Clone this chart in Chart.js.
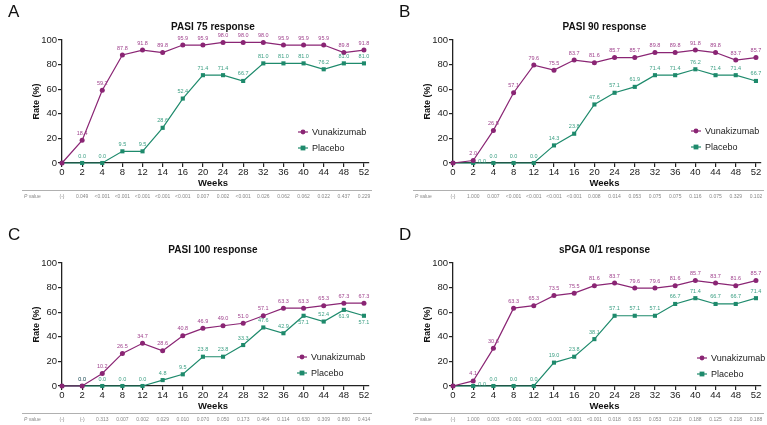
<!DOCTYPE html>
<html>
<head>
<meta charset="utf-8">
<script src="https://cdn.jsdelivr.net/npm/chart.js@4/dist/chart.umd.min.js"></script>
<style>
  html, body { margin: 0; padding: 0; background: #fff; }
  #wrap { position: relative; width: 767px; height: 425px; overflow: hidden; }
  canvas { position: absolute; }
</style>
</head>
<body>
<div id="wrap">
  <canvas id="panelA" width="391" height="202" style="left:0;top:0"></canvas>
  <canvas id="panelB" width="376" height="202" style="left:391px;top:0"></canvas>
  <canvas id="panelC" width="391" height="202" style="left:0;top:223px"></canvas>
  <canvas id="panelD" width="376" height="202" style="left:391px;top:223px"></canvas>
</div>
<script>
// week labels, evenly spaced on the axis
const weeks = ['0','2','4','8','12','14','16','20','24','28','32','36','40','44','48','52'];

// PASI 75
const pasi75Vuna    = [0, 18.4, 59.2, 87.8, 91.8, 89.8, 95.9, 95.9, 98.0, 98.0, 98.0, 95.9, 95.9, 95.9, 89.8, 91.8];
const pasi75Placebo = [0, 0.0, 0.0, 9.5, 9.5, 28.6, 52.4, 71.4, 71.4, 66.7, 81.0, 81.0, 81.0, 76.2, 81.0, 81.0];
const pasi75P = ['(-)','0.049','<0.001','<0.001','<0.001','<0.001','<0.001','0.007','0.002','<0.001','0.026','0.062','0.062','0.022','0.437','0.229'];

// PASI 90
const pasi90Vuna    = [0, 2.0, 26.5, 57.1, 79.6, 75.5, 83.7, 81.6, 85.7, 85.7, 89.8, 89.8, 91.8, 89.8, 83.7, 85.7];
const pasi90Placebo = [0, 0.0, 0.0, 0.0, 0.0, 14.3, 23.8, 47.6, 57.1, 61.9, 71.4, 71.4, 76.2, 71.4, 71.4, 66.7];
const pasi90P = ['(-)','1.000','0.007','<0.001','<0.001','<0.001','<0.001','0.008','0.014','0.053','0.075','0.075','0.116','0.075','0.329','0.102'];

// PASI 100
const pasi100Vuna    = [0, 0.0, 10.2, 26.5, 34.7, 28.6, 40.8, 46.9, 49.0, 51.0, 57.1, 63.3, 63.3, 65.3, 67.3, 67.3];
const pasi100Placebo = [0, 0.0, 0.0, 0.0, 0.0, 4.8, 9.5, 23.8, 23.8, 33.3, 47.6, 42.9, 57.1, 52.4, 61.9, 57.1];
const pasi100P = ['(-)','(-)','0.313','0.007','0.002','0.029','0.010','0.070','0.050','0.173','0.464','0.114','0.630','0.309','0.860','0.414'];

// sPGA 0/1
const spgaVuna    = [0, 4.1, 30.6, 63.3, 65.3, 73.5, 75.5, 81.6, 83.7, 79.6, 79.6, 81.6, 85.7, 83.7, 81.6, 85.7];
const spgaPlacebo = [0, 0.0, 0.0, 0.0, 0.0, 19.0, 23.8, 38.1, 57.1, 57.1, 57.1, 66.7, 71.4, 66.7, 66.7, 71.4];
const spgaP = ['(-)','1.000','0.003','<0.001','<0.001','<0.001','<0.001','<0.001','0.018','0.053','0.053','0.218','0.188','0.125','0.218','0.188'];

const PURPLE = '#8a2574';
const GREEN = '#1e8a6c';
const PURPLE_LBL = '#a0448e';
const GREEN_LBL = '#3a9e82';
const FONT = '"Liberation Sans", Arial, sans-serif';

// draws the decorations that chart.js doesn't do for us
const panelDeco = {
    id: 'panelDeco',
    afterDatasetsDraw(chart, args, opts) {
        const ctx = chart.ctx;
        const ca = chart.chartArea;
        const xs = chart.scales.x;
        const midX = (ca.left + xs.getPixelForValue(15)) / 2;
        ctx.save();

        // value labels above points (skip week 0)
        ctx.font = '5.5px ' + FONT;
        ctx.textAlign = 'center';
        ctx.textBaseline = 'middle';
        chart.data.datasets.forEach((ds, di) => {
            const meta = chart.getDatasetMeta(di);
            ctx.fillStyle = di === 0 ? PURPLE_LBL : GREEN_LBL;
            meta.data.forEach((pt, i) => {
                if (i === 0) return;
                let dx = 0, dy = -7;
                if (di === 1 && opts.below.includes(i)) dy = 7;
                if (di === 1 && opts.side.includes(i)) { dx = 9; dy = -2; }
                ctx.fillText(ds.data[i].y.toFixed(1), pt.x + dx, pt.y + dy);
            });
        });

        // panel letter
        ctx.fillStyle = '#111';
        ctx.textAlign = 'left';
        ctx.textBaseline = 'top';
        ctx.font = '17px ' + FONT;
        ctx.fillText(opts.letter, 8, 4);

        // title
        ctx.textAlign = 'center';
        ctx.textBaseline = 'middle';
        ctx.font = 'bold 10px ' + FONT;
        ctx.fillText(opts.title, midX, 27);

        // y title
        ctx.save();
        ctx.translate(ca.left - 25, (ca.top + ca.bottom) / 2);
        ctx.rotate(-Math.PI / 2);
        ctx.font = 'bold 9px ' + FONT;
        ctx.fillText('Rate (%)', 0, 0);
        ctx.restore();

        // x title
        ctx.font = 'bold 9.5px ' + FONT;
        ctx.fillText('Weeks', midX, ca.bottom + 20);

        // separator + P value row
        ctx.strokeStyle = '#b0b0b0';
        ctx.lineWidth = 1;
        ctx.beginPath();
        ctx.moveTo(22, ca.bottom + 27.5);
        ctx.lineTo(ca.right + 3, ca.bottom + 27.5);
        ctx.stroke();

        ctx.fillStyle = '#888';
        ctx.font = 'italic 5px ' + FONT;
        ctx.textAlign = 'left';
        ctx.fillText('P', 24, ca.bottom + 34);
        const pw = ctx.measureText('P').width;
        ctx.font = '5px ' + FONT;
        ctx.fillText(' value', 24 + pw, ca.bottom + 34);
        ctx.textAlign = 'center';
        opts.pvals.forEach((p, i) => {
            ctx.fillText(p, xs.getPixelForValue(i), ca.bottom + 34);
        });

        // legend
        const lx = ca.right - opts.legX;
        const items = [['Vunakizumab', PURPLE, 'circle'], ['Placebo', GREEN, 'rect']];
        items.forEach((it, k) => {
            const y = ca.bottom - opts.legY + k * 16;
            ctx.strokeStyle = it[1];
            ctx.fillStyle = it[1];
            ctx.lineWidth = 1.2;
            ctx.beginPath();
            ctx.moveTo(lx - 5, y);
            ctx.lineTo(lx + 5, y);
            ctx.stroke();
            if (it[2] === 'circle') {
                ctx.beginPath();
                ctx.arc(lx, y, 2.4, 0, Math.PI * 2);
                ctx.fill();
            } else {
                ctx.fillRect(lx - 2.4, y - 2.4, 4.8, 4.8);
            }
            ctx.fillStyle = '#222';
            ctx.textAlign = 'left';
            ctx.font = '9px ' + FONT;
            ctx.fillText(it[0], lx + 9, y + 0.5);
        });

        ctx.restore();
    }
};

function toPoints(arr) {
    return arr.map((v, i) => ({ x: i, y: v }));
}

function makePanel(id, letter, title, vuna, placebo, pvals, padRight, extra) {
    new Chart(document.getElementById(id), {
        type: 'line',
        data: {
            datasets: [{
                label: 'Vunakizumab',
                data: toPoints(vuna),
                borderColor: PURPLE,
                backgroundColor: PURPLE,
                borderWidth: 1.2,
                pointStyle: 'circle',
                pointRadius: 2.5,
                pointBorderWidth: 0,
                tension: 0,
                clip: false
            }, {
                label: 'Placebo',
                data: toPoints(placebo),
                borderColor: GREEN,
                backgroundColor: GREEN,
                borderWidth: 1.2,
                pointStyle: 'rect',
                pointRadius: 2.9,
                pointBorderWidth: 0,
                tension: 0,
                clip: false
            }]
        },
        options: {
            responsive: false,
            devicePixelRatio: 1,
            animation: false,
            layout: { padding: { top: 40, left: 22, bottom: 9, right: padRight } },
            plugins: {
                legend: { display: false },
                tooltip: { enabled: false },
                panelDeco: Object.assign({ letter: letter, title: title, pvals: pvals, below: [], side: [] }, extra)
            },
            scales: {
                x: {
                    type: 'linear',
                    min: 0,
                    max: 15.25,
                    afterBuildTicks: s => { s.ticks = weeks.map((w, i) => ({ value: i })); },
                    afterFit: s => { s.height = 30; },
                    ticks: {
                        autoSkip: false,
                        maxRotation: 0,
                        padding: 0,
                        color: '#222',
                        font: { size: 9.5, family: FONT },
                        callback: v => weeks[v]
                    },
                    grid: { drawOnChartArea: false, tickLength: 4, color: '#222', lineWidth: 1.2 },
                    border: { color: '#222', width: 1.3 }
                },
                y: {
                    min: 0,
                    max: 100,
                    afterFit: s => { s.width = 40; },
                    ticks: {
                        stepSize: 20,
                        padding: 1,
                        color: '#222',
                        font: { size: 9.5, family: FONT }
                    },
                    grid: { drawOnChartArea: false, tickLength: 4, color: '#222', lineWidth: 1.2 },
                    border: { color: '#222', width: 1.3 }
                }
            }
        },
        plugins: [panelDeco]
    });
}

makePanel('panelA', 'A', 'PASI 75 response', pasi75Vuna, pasi75Placebo, pasi75P, 22, { legX: 66, legY: 31 });
makePanel('panelB', 'B', 'PASI 90 response', pasi90Vuna, pasi90Placebo, pasi90P, 6, { legX: 65, legY: 32, side: [1] });
makePanel('panelC', 'C', 'PASI 100 response', pasi100Vuna, pasi100Placebo, pasi100P, 22, { legX: 67, legY: 29, below: [12, 14, 15] });
makePanel('panelD', 'D', 'sPGA 0/1 response', spgaVuna, spgaPlacebo, spgaP, 6, { legX: 59, legY: 28, side: [1] });
</script>
</body>
</html>
